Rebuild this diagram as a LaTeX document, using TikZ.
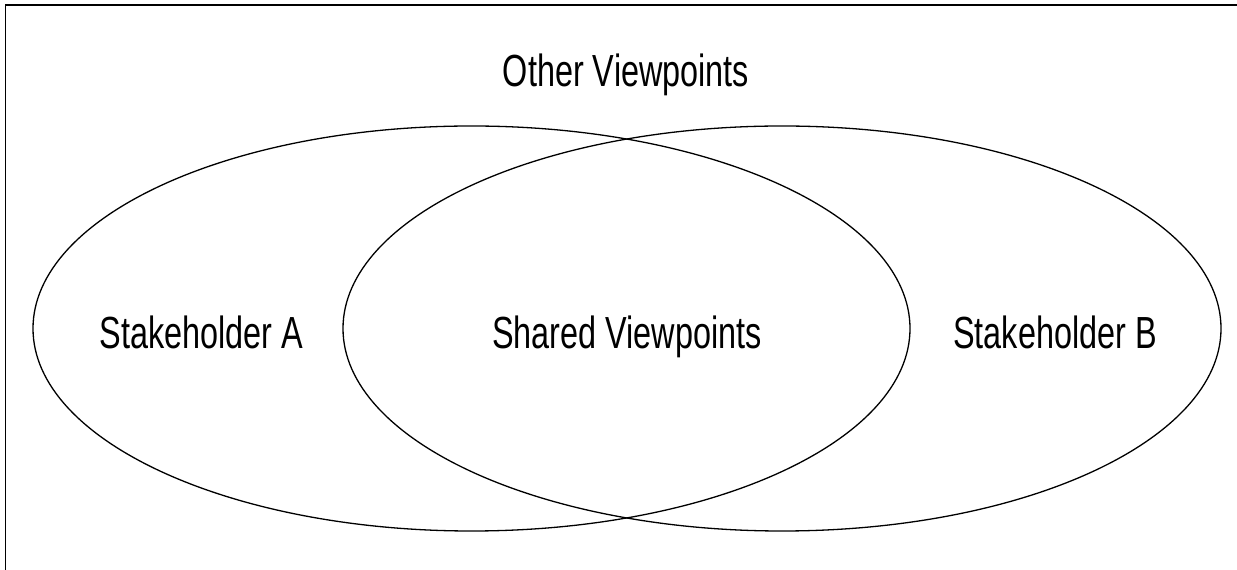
\documentclass[tikz,border=0pt]{standalone}
\usepackage{fontspec}
\setmainfont{Liberation Sans}[FakeStretch=0.72]
\usetikzlibrary{shapes.geometric}

\begin{document}
\begin{tikzpicture}[x=1pt,y=1pt,line width=1.3pt]
        \clip (0,0) rectangle (1237,570);
        \useasboundingbox (0,0) rectangle (1237,570);
        \draw (5.5,-20) rectangle (1260,565);

        \node (viewA) [draw, ellipse, inner sep=0pt, minimum width=877pt, minimum height=405pt] at (471.5,241.5) {};
        \node (viewB) [draw, ellipse, inner sep=0pt, minimum width=878pt, minimum height=405pt] at (782,241.5) {};

        \node (other) [anchor=base, font=\fontsize{45}{50}\selectfont] at (626,483) {Other Viewpoints};
        \node (stakeA) [anchor=base, font=\fontsize{45}{50}\selectfont] at (201.5,221) {Stakeholder A};
        \node (shared) [anchor=base, font=\fontsize{45}{50}\selectfont] at (627,221) {Shared Viewpoints};
        \node (stakeB) [anchor=base, font=\fontsize{45}{50}\selectfont] at (1055,221) {Stakeholder B};
    \end{tikzpicture}
\end{document}
